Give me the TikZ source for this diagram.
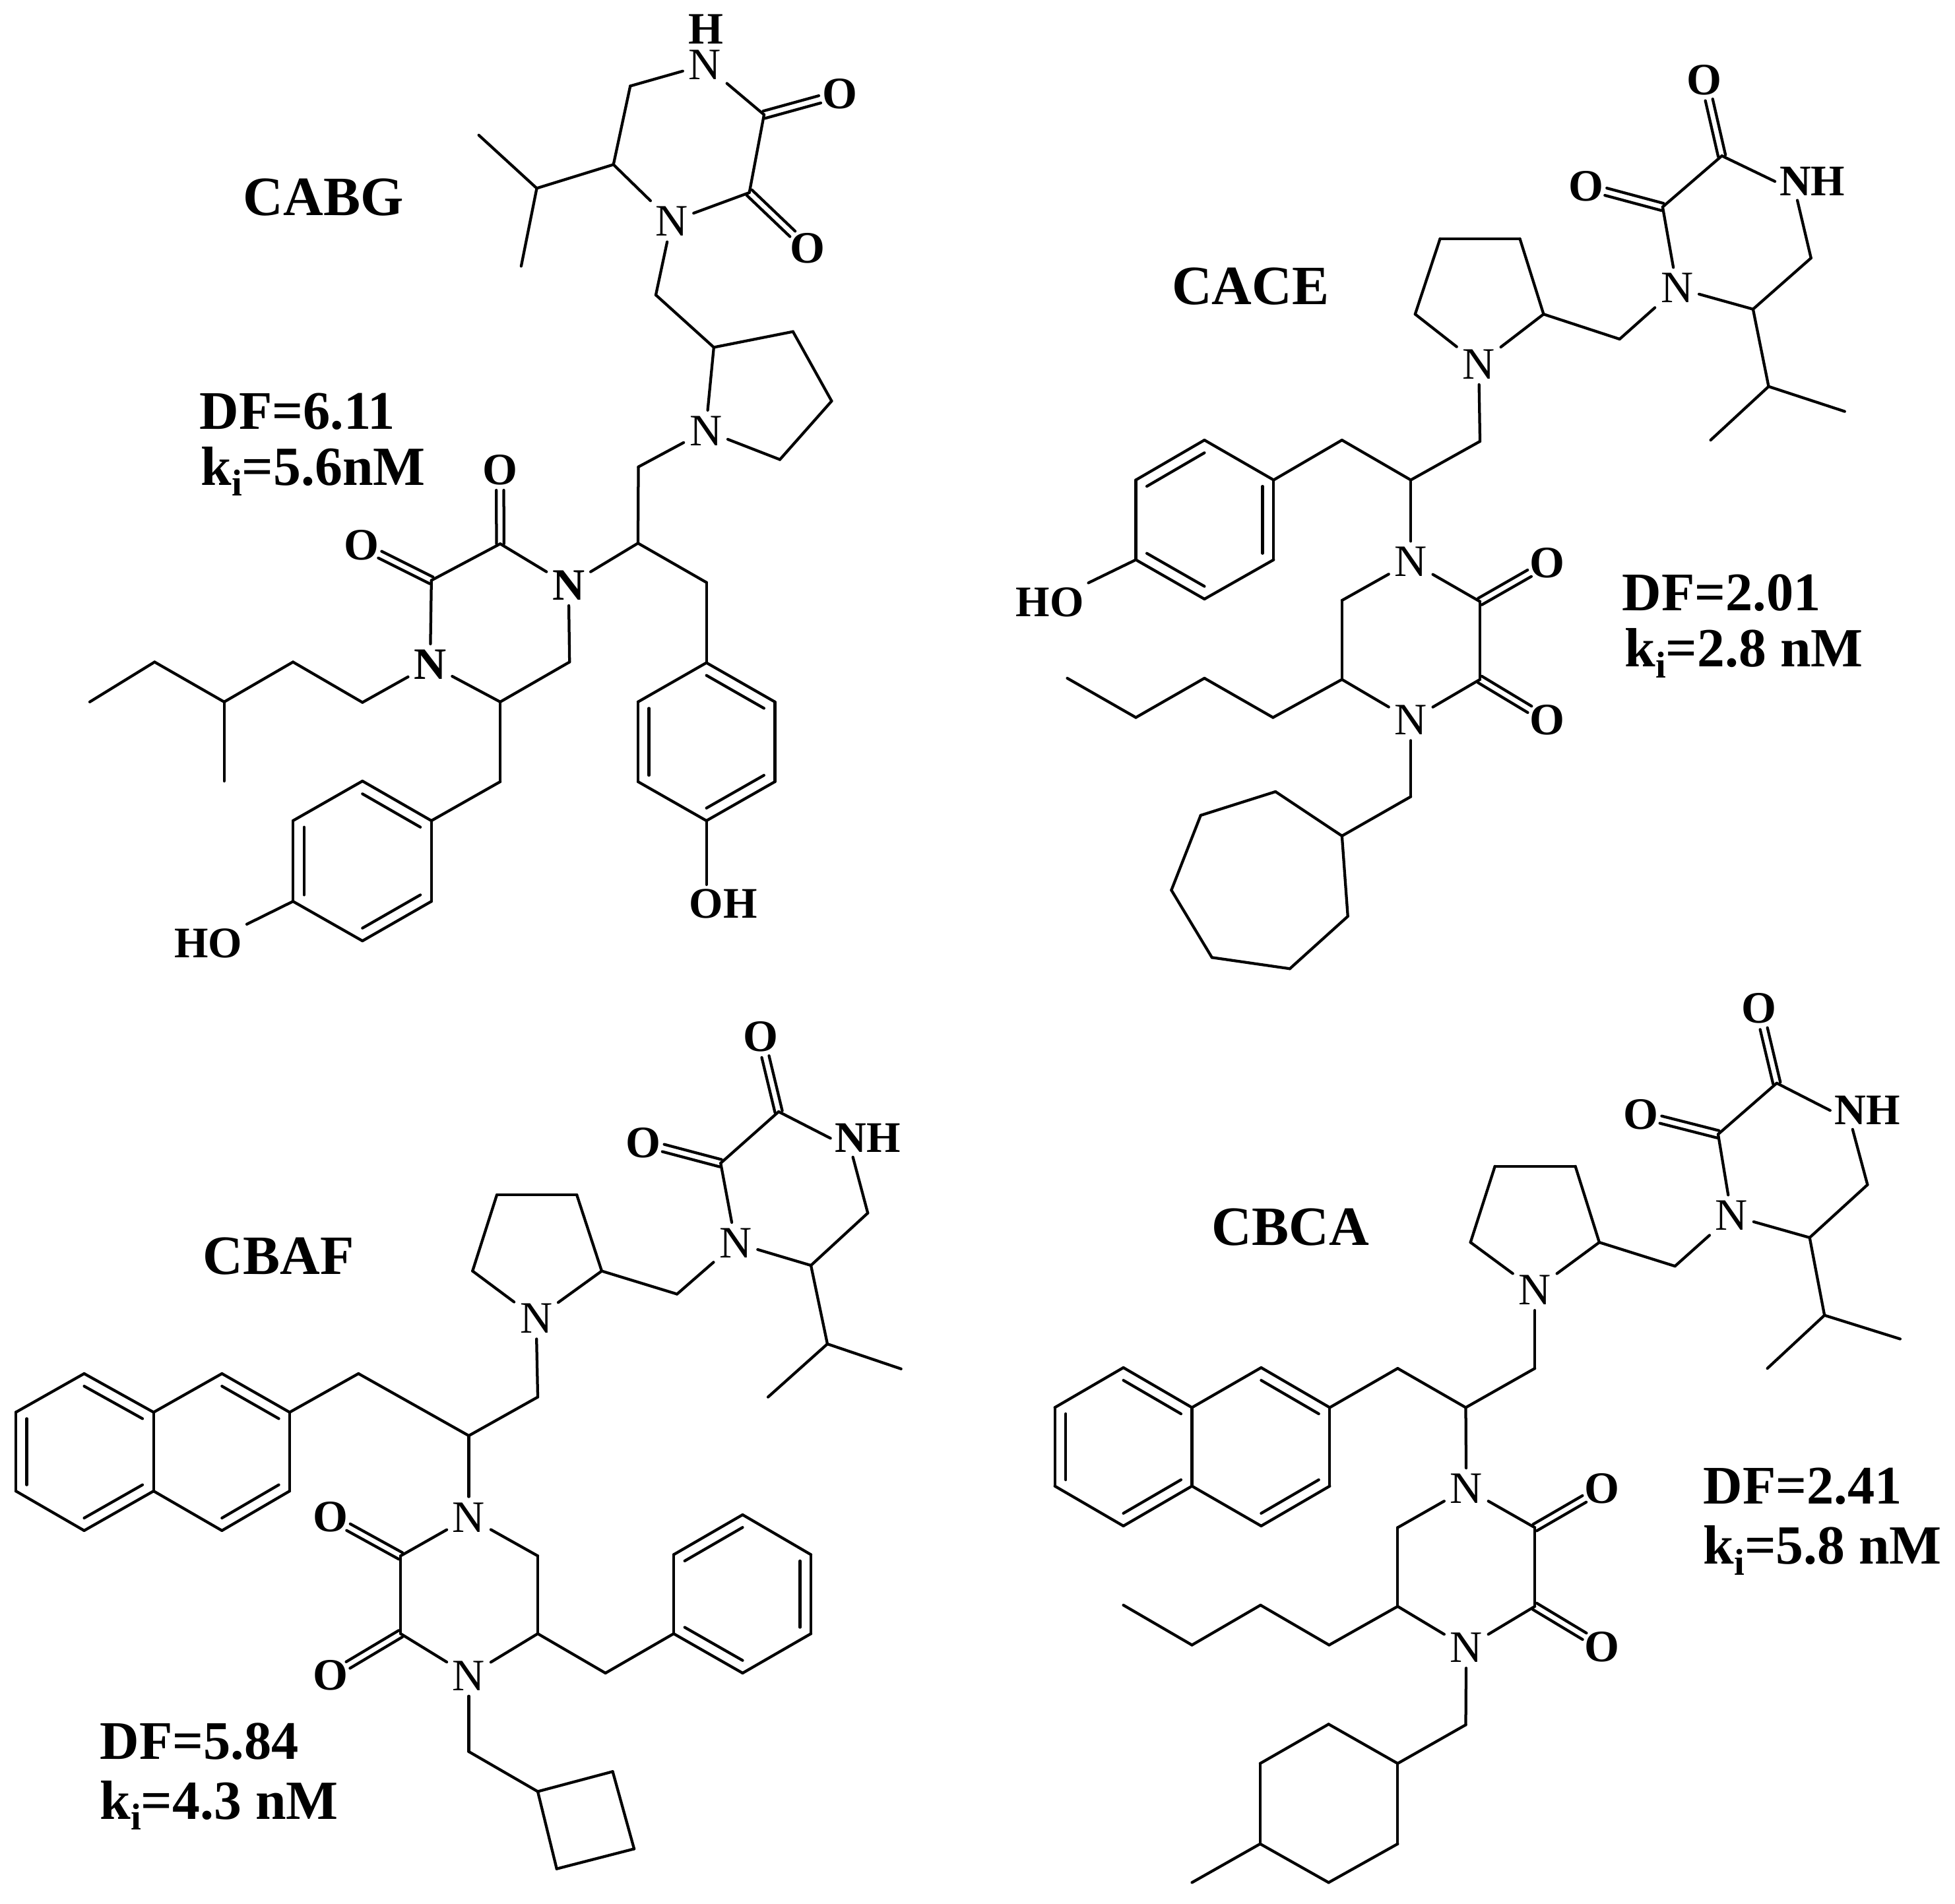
\documentclass[tikz,border=0pt]{standalone}
\usepackage{fontspec}
\setmainfont{Liberation Serif}
\usetikzlibrary{calc}
\tikzset{
  bond/.style={line width=2.25pt,line cap=round,line join=round,black},
  atomN/.style={font=\fontsize{36}{36}\selectfont,inner sep=4.5pt},
  atomO/.style={font=\fontsize{36}{36}\selectfont\bfseries,inner sep=4.5pt},
  atomH/.style={font=\fontsize{36}{36}\selectfont\bfseries,inner sep=0pt},
  atomG/.style={font=\fontsize{35}{35}\selectfont\bfseries,inner sep=3.5pt},
  title/.style={font=\fontsize{44.5}{44.5}\selectfont\bfseries,inner sep=0pt},
  datum/.style={font=\fontsize{43.6}{43.6}\selectfont\bfseries,inner sep=0pt,anchor=base west},
  kline/.style={font=\fontsize{44.3}{44.3}\selectfont\bfseries,inner sep=0pt,anchor=base west},
}
\newcommand\bonds[1]{\foreach \a/\b in {#1}{\draw[bond] (\a) -- (\b);}}
% double bond to a carbonyl oxygen: two parallel lines
\newcommand\carbonyl[2]{%
  \draw[bond,shorten >=16.5pt] ($(#1.center)!3pt!90:(#2.center)$) -- ($(#2.center)!3pt!-90:(#1.center)$);
  \draw[bond,shorten >=16.5pt] ($(#1.center)!3pt!-90:(#2.center)$) -- ($(#2.center)!3pt!90:(#1.center)$);}
% inner line of an aromatic double bond, moved toward ring centre #3
\newcommand\inner[3]{\draw[bond] ($(#1)!.16!(#3)$) -- ($(#2)!.16!(#3)$);}
\newcommand\kival[1]{k\raisebox{-.2em}{\fontsize{30}{30}\selectfont i}=#1}
\begin{document}
\begin{tikzpicture}[x=1pt,y=-1pt]
\useasboundingbox (0,0) rectangle (1568,1527);

%% ---------- CABG ----------
\node[title] (Atitle) at (259.5,158) {CABG};
\node[datum] (Adf) at (160,344) {DF=6.11};
\node[kline] (Aki) at (161,389) {\kival{5.6nM}};
\node[atomH] (Ah) at (566,23.5) {H};
\node[atomN] (An1) at (565.3,52) {N};
\node[atomN] (An2) at (538.6,177.5) {N};
\node[atomN] (Apn) at (566,345.5) {N};
\node[atomO] (An3) at (456,469.3) {N};
\node[atomO] (An4) at (345,533) {N};
\node[atomO] (Ao1) at (673.4,75.3) {O};
\node[atomO] (Ao2) at (647.6,199) {O};
\node[atomO] (Ao3) at (401,376.7) {O};
\node[atomO] (Ao4) at (290,437.5) {O};
\node[atomG] (Aoh) at (580,725) {OH};
\node[atomG] (Aho) at (167,756.8) {HO};
\coordinate (Ac1) at (505.5,69); \coordinate (Ac2) at (612.8,92); \coordinate (Ac3) at (601,154.5);
\coordinate (Ac4) at (492,132); \coordinate (Ai) at (430.5,151); \coordinate (Am1) at (384,108.4);
\coordinate (Am2) at (418,213.5); \coordinate (Ac5) at (526,236.6); \coordinate (Ap2) at (572.5,278.6);
\coordinate (Ap3) at (636,266); \coordinate (Ap4) at (667,321.7); \coordinate (Ap5) at (625.5,368.6);
\coordinate (Ac6) at (512,374.5); \coordinate (Ach) at (511.7,435.7); \coordinate (Ac7) at (566.6,467.2);
\coordinate (Ab1) at (566.6,531.6); \coordinate (Ab2) at (621.5,563); \coordinate (Ab3) at (621.5,627);
\coordinate (Ab4) at (566.6,658.3); \coordinate (Ab5) at (511.7,627); \coordinate (Ab6) at (511.7,563);
\coordinate (Ad1) at (401.2,436.2); \coordinate (Ad2) at (346,465.5); \coordinate (Ad3) at (401.2,563);
\coordinate (Ad4) at (456.8,531); \coordinate (Ae1) at (290.7,563.4); \coordinate (Ae2) at (235,531);
\coordinate (Ae3) at (179.8,563); \coordinate (Ae4) at (124,531); \coordinate (Ae5) at (72,563);
\coordinate (Ae6) at (179.8,626.5); \coordinate (Af) at (401.2,627);
\coordinate (Aa1) at (346,658.3); \coordinate (Aa2) at (290.7,626.5); \coordinate (Aa3) at (235,658.3);
\coordinate (Aa4) at (235,723); \coordinate (Aa5) at (290.7,754.7); \coordinate (Aa6) at (346,723);
\coordinate (Abc) at ($(Ab1)!.5!(Ab4)$); \coordinate (Aac) at ($(Aa2)!.5!(Aa5)$);
\bonds{An1/Ac1,An1/Ac2,Ac2/Ac3,Ac3/An2,An2/Ac4,Ac4/Ac1,Ac4/Ai,Ai/Am1,Ai/Am2,An2/Ac5,Ac5/Ap2,Ap2/Ap3,Ap3/Ap4,Ap4/Ap5,Ap5/Apn,Apn/Ap2,Apn/Ac6,Ac6/Ach,Ach/An3,Ach/Ac7,Ac7/Ab1,Ab1/Ab2,Ab2/Ab3,Ab3/Ab4,Ab4/Ab5,Ab5/Ab6,Ab6/Ab1,An3/Ad1,Ad1/Ad2,Ad2/An4,An4/Ad3,Ad3/Ad4,Ad4/An3,An4/Ae1,Ae1/Ae2,Ae2/Ae3,Ae3/Ae4,Ae4/Ae5,Ae3/Ae6,Ad3/Af,Af/Aa1,Aa1/Aa2,Aa2/Aa3,Aa3/Aa4,Aa4/Aa5,Aa5/Aa6,Aa6/Aa1}
\carbonyl{Ac2}{Ao1}\carbonyl{Ac3}{Ao2}\carbonyl{Ad1}{Ao3}\carbonyl{Ad2}{Ao4}
\inner{Ab1}{Ab2}{Abc}\inner{Ab3}{Ab4}{Abc}\inner{Ab5}{Ab6}{Abc}
\inner{Aa1}{Aa2}{Aac}\inner{Aa3}{Aa4}{Aac}\inner{Aa5}{Aa6}{Aac}
\draw[bond] (Ab4) -- (Aoh.north -| Ab4);
\draw[bond] (Aa4) -- (Aho.north east);

%% ---------- CACE ----------
\node[title] (Btitle) at (1003,229.5) {CACE};
\node[datum] (Bdf) at (1301,490) {DF=2.01};
\node[kline] (Bki) at (1303,535) {\kival{2.8 nM}};
\node[atomO] (Bo1) at (1367,64) {O};
\node[atomO] (Bo2) at (1272,149.5) {O};
\node[atomG] (Bnh) at (1453.5,145.5) {NH};
\node[atomN] (Bn1) at (1345,231) {N};
\node[atomN] (Bpn) at (1186,292) {N};
\node[atomN] (Bn2) at (1131.5,450.6) {N};
\node[atomN] (Bn3) at (1131.5,577.5) {N};
\node[atomO] (Bo3) at (1241,451.6) {O};
\node[atomO] (Bo4) at (1241,577.5) {O};
\node[atomG] (Bho) at (842,483) {HO};
\coordinate (Bc1) at (1381,125); \coordinate (Bc2) at (1333.5,166); \coordinate (Bc3) at (1452.5,207);
\coordinate (Bc4) at (1406,248); \coordinate (Bi) at (1418.5,310); \coordinate (Bm1) at (1479.5,330);
\coordinate (Bm2) at (1372,353); \coordinate (Bc5) at (1299,272); \coordinate (Bp2) at (1238,252);
\coordinate (Bp3) at (1219,191.5); \coordinate (Bp4) at (1155,191.5); \coordinate (Bp5) at (1135,252);
\coordinate (Bc6) at (1187,354); \coordinate (Bch) at (1131.5,385); \coordinate (Bc7) at (1076.3,353);
\coordinate (Bb1) at (1021.5,385); \coordinate (Bb2) at (966,353); \coordinate (Bb3) at (911,385);
\coordinate (Bb4) at (911,449); \coordinate (Bb5) at (966,480.5); \coordinate (Bb6) at (1021.5,449);
\coordinate (Bd1) at (1187,482.5); \coordinate (Bd2) at (1187,545); \coordinate (Bd3) at (1076.3,545);
\coordinate (Bd4) at (1076.3,481.6); \coordinate (Be1) at (1021,575.5); \coordinate (Be2) at (966,544);
\coordinate (Be3) at (911,575.5); \coordinate (Be4) at (856,544); \coordinate (Bf) at (1131.5,639);
\coordinate (Bg1) at (1076.3,670.5); \coordinate (Bg2) at (1081,735); \coordinate (Bg3) at (1034.5,777);
\coordinate (Bg4) at (972,768); \coordinate (Bg5) at (939.5,714); \coordinate (Bg6) at (963,654);
\coordinate (Bg7) at (1023,635);
\coordinate (Bbc) at ($(Bb2)!.5!(Bb5)$);
\bonds{Bc1/Bc2,Bc2/Bn1,Bn1/Bc4,Bc4/Bc3,Bc4/Bi,Bi/Bm1,Bi/Bm2,Bn1/Bc5,Bc5/Bp2,Bp2/Bp3,Bp3/Bp4,Bp4/Bp5,Bp5/Bpn,Bpn/Bp2,Bpn/Bc6,Bc6/Bch,Bch/Bn2,Bch/Bc7,Bc7/Bb1,Bb1/Bb2,Bb2/Bb3,Bb3/Bb4,Bb4/Bb5,Bb5/Bb6,Bb6/Bb1,Bn2/Bd1,Bd1/Bd2,Bd2/Bn3,Bn3/Bd3,Bd3/Bd4,Bd4/Bn2,Bd3/Be1,Be1/Be2,Be2/Be3,Be3/Be4,Bn3/Bf,Bf/Bg1,Bg1/Bg2,Bg2/Bg3,Bg3/Bg4,Bg4/Bg5,Bg5/Bg6,Bg6/Bg7,Bg7/Bg1}
\carbonyl{Bc1}{Bo1}\carbonyl{Bc2}{Bo2}\carbonyl{Bd1}{Bo3}\carbonyl{Bd2}{Bo4}
\inner{Bb1}{Bb6}{Bbc}\inner{Bb2}{Bb3}{Bbc}\inner{Bb4}{Bb5}{Bbc}
\draw[bond] (Bc1) -- (Bnh.west);
\draw[bond] (Bc3) -- ([xshift=18pt]Bnh.south west);
\draw[bond] (Bb4) -- (Bho.north east);

%% ---------- CBAF ----------
\node[title] (Ctitle) at (223.5,1007.5) {CBAF};
\node[datum] (Cdf) at (80,1411) {DF=5.84};
\node[kline] (Cki) at (80,1459) {\kival{4.3 nM}};
\node[atomO] (Co1) at (610,831.5) {O};
\node[atomO] (Co2) at (516,916.6) {O};
\node[atomG] (Cnh) at (696,913) {NH};
\node[atomN] (Cn1) at (590,997) {N};
\node[atomN] (Cpn) at (430,1057.5) {N};
\node[atomN] (Cn2) at (376,1217) {N};
\node[atomN] (Cn3) at (376,1344) {N};
\node[atomO] (Co3) at (265,1217) {O};
\node[atomO] (Co4) at (265,1344) {O};
\coordinate (Cc1) at (624.5,891.7); \coordinate (Cc2) at (578,933); \coordinate (Cc3) at (696,973);
\coordinate (Cc4) at (650.4,1015); \coordinate (Ci) at (663.6,1078); \coordinate (Cm1) at (722.7,1098);
\coordinate (Cm2) at (616,1120.6); \coordinate (Cc5) at (543,1038); \coordinate (Cp2) at (482.6,1019.5);
\coordinate (Cp3) at (462.6,958.4); \coordinate (Cp4) at (398.5,958.4); \coordinate (Cp5) at (379,1019.5);
\coordinate (Cc6) at (431.3,1120.6); \coordinate (Cch) at (376,1151.6); \coordinate (Cc7) at (287.5,1101.8);
\coordinate (Ca1) at (232.3,1132.8); \coordinate (Ca2) at (178,1101.8); \coordinate (Ca3) at (123.2,1132.8);
\coordinate (Ca4) at (67.5,1101.8); \coordinate (Ca5) at (12.7,1132.8); \coordinate (Ca6) at (12.7,1196);
\coordinate (Ca7) at (67.5,1227.7); \coordinate (Ca8) at (123.2,1196); \coordinate (Ca9) at (178,1227.7);
\coordinate (Ca10) at (232.3,1196);
\coordinate (Cd1) at (321.3,1248); \coordinate (Cd2) at (321.3,1310.4); \coordinate (Cd3) at (431.3,1310.4);
\coordinate (Cd4) at (431.3,1248); \coordinate (Ce) at (485.6,1342);
\coordinate (Cb1) at (540.3,1310.4); \coordinate (Cb2) at (540.3,1247); \coordinate (Cb3) at (595.6,1215);
\coordinate (Cb4) at (650.4,1247); \coordinate (Cb5) at (650.4,1310.4); \coordinate (Cb6) at (595.6,1342);
\coordinate (Cf) at (376,1405); \coordinate (Cg1) at (431.3,1437); \coordinate (Cg2) at (491.4,1421);
\coordinate (Cg3) at (508.6,1483); \coordinate (Cg4) at (446.5,1499);
\coordinate (Cu) at ($(Ca2)!.5!(Ca9)$); \coordinate (Cv) at ($(Ca4)!.5!(Ca7)$); \coordinate (Cbc) at ($(Cb3)!.5!(Cb6)$);
\bonds{Cc1/Cc2,Cc2/Cn1,Cn1/Cc4,Cc4/Cc3,Cc4/Ci,Ci/Cm1,Ci/Cm2,Cn1/Cc5,Cc5/Cp2,Cp2/Cp3,Cp3/Cp4,Cp4/Cp5,Cp5/Cpn,Cpn/Cp2,Cpn/Cc6,Cc6/Cch,Cch/Cn2,Cch/Cc7,Cc7/Ca1,Ca1/Ca2,Ca2/Ca3,Ca3/Ca4,Ca4/Ca5,Ca5/Ca6,Ca6/Ca7,Ca7/Ca8,Ca8/Ca9,Ca9/Ca10,Ca10/Ca1,Ca3/Ca8,Cn2/Cd1,Cd1/Cd2,Cd2/Cn3,Cn3/Cd3,Cd3/Cd4,Cd4/Cn2,Cd3/Ce,Ce/Cb1,Cb1/Cb2,Cb2/Cb3,Cb3/Cb4,Cb4/Cb5,Cb5/Cb6,Cb6/Cb1,Cn3/Cf,Cf/Cg1,Cg1/Cg2,Cg2/Cg3,Cg3/Cg4,Cg4/Cg1}
\carbonyl{Cc1}{Co1}\carbonyl{Cc2}{Co2}\carbonyl{Cd1}{Co3}\carbonyl{Cd2}{Co4}
\inner{Ca1}{Ca2}{Cu}\inner{Ca9}{Ca10}{Cu}\inner{Ca3}{Ca4}{Cv}\inner{Ca5}{Ca6}{Cv}\inner{Ca7}{Ca8}{Cv}
\inner{Cb2}{Cb3}{Cbc}\inner{Cb4}{Cb5}{Cbc}\inner{Cb6}{Cb1}{Cbc}
\draw[bond] (Cc1) -- (Cnh.west);
\draw[bond] (Cc3) -- ([xshift=18pt]Cnh.south west);

%% ---------- CBCA ----------
\node[title] (Dtitle) at (1035,984.5) {CBCA};
\node[datum] (Ddf) at (1366,1206.5) {DF=2.41};
\node[kline] (Dki) at (1366,1254.5) {\kival{5.8 nM}};
\node[atomO] (Do1) at (1410.8,809) {O};
\node[atomO] (Do2) at (1316,894) {O};
\node[atomG] (Dnh) at (1497.8,890.7) {NH};
\node[atomN] (Dn1) at (1388.8,975) {N};
\node[atomN] (Dpn) at (1231,1034.6) {N};
\node[atomN] (Dn2) at (1176,1194) {N};
\node[atomN] (Dn3) at (1176,1321.5) {N};
\node[atomO] (Do3) at (1285,1194) {O};
\node[atomO] (Do4) at (1285,1321) {O};
\coordinate (Dc1) at (1425,868.8); \coordinate (Dc2) at (1378,909.8); \coordinate (Dc3) at (1497.8,950.3);
\coordinate (Dc4) at (1451.4,992.7); \coordinate (Di) at (1463.3,1055); \coordinate (Dm1) at (1524,1074);
\coordinate (Dm2) at (1417.5,1097.6); \coordinate (Dc5) at (1343.4,1015.6); \coordinate (Dp2) at (1282.7,996.5);
\coordinate (Dp3) at (1263.5,935.5); \coordinate (Dp4) at (1199,935.5); \coordinate (Dp5) at (1179.4,996.5);
\coordinate (Dc6) at (1231,1097.6); \coordinate (Dch) at (1175.6,1129); \coordinate (Dc7) at (1121,1097.6);
\coordinate (Da1) at (1066.5,1129); \coordinate (Da2) at (1011.5,1097); \coordinate (Da3) at (956,1129);
\coordinate (Da4) at (901,1097); \coordinate (Da5) at (846,1129); \coordinate (Da6) at (846,1192);
\coordinate (Da7) at (901,1224); \coordinate (Da8) at (956,1192); \coordinate (Da9) at (1011.5,1224);
\coordinate (Da10) at (1066.5,1192);
\coordinate (Dd1) at (1231,1225.3); \coordinate (Dd2) at (1231,1288.5); \coordinate (Dd3) at (1121,1288.5);
\coordinate (Dd4) at (1121,1225.3); \coordinate (De1) at (1066,1319.5); \coordinate (De2) at (1011,1287.5);
\coordinate (De3) at (956,1319.5); \coordinate (De4) at (901,1287.5); \coordinate (Df) at (1175.6,1383.5);
\coordinate (Dg1) at (1121,1414.5); \coordinate (Dg2) at (1121,1479); \coordinate (Dg3) at (1065.6,1510);
\coordinate (Dg4) at (1010.7,1479); \coordinate (Dg5) at (1010.7,1414.5); \coordinate (Dg6) at (1065.6,1383);
\coordinate (Dg7) at (956,1510);
\coordinate (Du) at ($(Da2)!.5!(Da9)$); \coordinate (Dv) at ($(Da4)!.5!(Da7)$);
\bonds{Dc1/Dc2,Dc2/Dn1,Dn1/Dc4,Dc4/Dc3,Dc4/Di,Di/Dm1,Di/Dm2,Dn1/Dc5,Dc5/Dp2,Dp2/Dp3,Dp3/Dp4,Dp4/Dp5,Dp5/Dpn,Dpn/Dp2,Dpn/Dc6,Dc6/Dch,Dch/Dn2,Dch/Dc7,Dc7/Da1,Da1/Da2,Da2/Da3,Da3/Da4,Da4/Da5,Da5/Da6,Da6/Da7,Da7/Da8,Da8/Da9,Da9/Da10,Da10/Da1,Da3/Da8,Dn2/Dd1,Dd1/Dd2,Dd2/Dn3,Dn3/Dd3,Dd3/Dd4,Dd4/Dn2,Dd3/De1,De1/De2,De2/De3,De3/De4,Dn3/Df,Df/Dg1,Dg1/Dg2,Dg2/Dg3,Dg3/Dg4,Dg4/Dg5,Dg5/Dg6,Dg6/Dg1,Dg4/Dg7}
\carbonyl{Dc1}{Do1}\carbonyl{Dc2}{Do2}\carbonyl{Dd1}{Do3}\carbonyl{Dd2}{Do4}
\inner{Da1}{Da2}{Du}\inner{Da9}{Da10}{Du}\inner{Da3}{Da4}{Dv}\inner{Da5}{Da6}{Dv}\inner{Da7}{Da8}{Dv}
\draw[bond] (Dc1) -- (Dnh.west);
\draw[bond] (Dc3) -- ([xshift=18pt]Dnh.south west);
\end{tikzpicture}
\end{document}
